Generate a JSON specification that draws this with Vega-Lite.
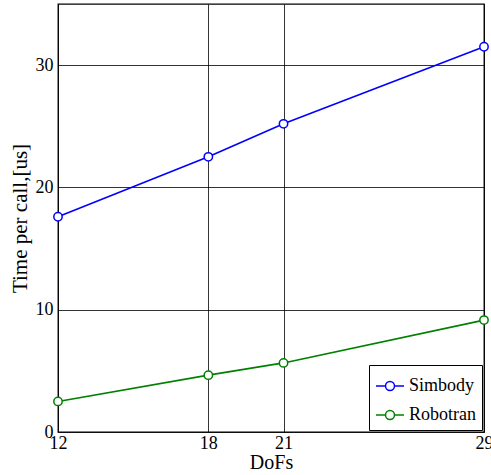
{
  "$schema": "https://vega.github.io/schema/vega-lite/v6.json",
  "autosize": "none",
  "padding": {"left": 58, "top": 4, "right": 7, "bottom": 43},
  "width": 426,
  "height": 428,
  "background": "white",
  "config": {
    "font": "Liberation Serif",
    "view": {"stroke": "black", "strokeWidth": 1.3},
    "axis": {"labelFont": "Liberation Serif", "titleFont": "Liberation Serif", "labelColor": "black", "titleColor": "black", "titleFontWeight": "normal", "gridColor": "black", "gridOpacity": 1, "gridWidth": 0.8, "domain": false, "ticks": false, "labelFontSize": 18, "titleFontSize": 21}
  },
  "data": {"values": [
    {"dofs": 12, "time": 17.6, "series": "Simbody"},
    {"dofs": 18, "time": 22.5, "series": "Simbody"},
    {"dofs": 21, "time": 25.2, "series": "Simbody"},
    {"dofs": 29, "time": 31.5, "series": "Simbody"},
    {"dofs": 12, "time": 2.5, "series": "Robotran"},
    {"dofs": 18, "time": 4.65, "series": "Robotran"},
    {"dofs": 21, "time": 5.65, "series": "Robotran"},
    {"dofs": 29, "time": 9.15, "series": "Robotran"}
  ]},
  "mark": {"type": "line", "strokeWidth": 1.6, "point": {"filled": false, "size": 70, "strokeWidth": 1.5, "fill": "white"}},
  "encoding": {
    "x": {"field": "dofs", "type": "quantitative", "scale": {"domain": [12, 29], "nice": false, "zero": false},
      "axis": {"values": [12, 18, 21, 29], "title": "DoFs", "titleFontSize": 20, "labelPadding": 2, "titlePadding": 0, "labelFlush": false}},
    "y": {"field": "time", "type": "quantitative", "scale": {"domain": [0, 35], "nice": false},
      "axis": {"values": [0, 10, 20, 30], "title": "Time per call,[us]", "labelPadding": 5, "titlePadding": 5}},
    "color": {"field": "series", "type": "nominal",
      "scale": {"domain": ["Simbody", "Robotran"], "range": ["#0000ff", "#008000"]},
      "legend": {"title": null, "orient": "none", "legendX": 311, "legendY": 361, "strokeColor": "black", "fillColor": "white", "padding": 6, "labelFontSize": 18, "labelFont": "Liberation Serif", "labelColor": "black", "symbolType": "M-1,0H-0.32M0.32,0H1M-0.32,0A0.32,0.32,0,1,1,0.32,0A0.32,0.32,0,1,1,-0.32,0", "symbolSize": 784, "symbolStrokeWidth": 1.5, "symbolFillColor": "transparent", "rowPadding": 5, "labelOffset": 4}}
  }
}
